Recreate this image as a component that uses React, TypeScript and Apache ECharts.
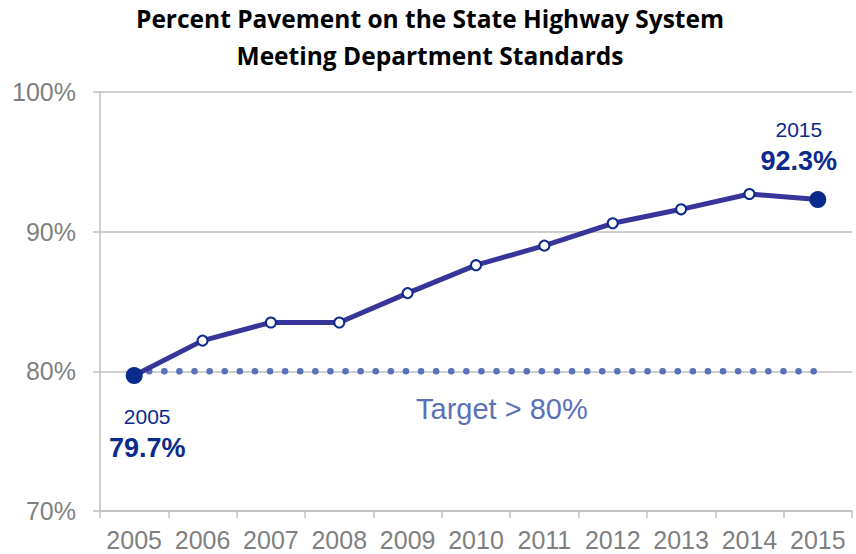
import React, { useEffect, useRef } from "react";
import * as echarts from "echarts";

const years = ["2005", "2006", "2007", "2008", "2009", "2010", "2011", "2012", "2013", "2014", "2015"];
const pavementPct = [79.7, 82.2, 83.5, 83.5, 85.6, 87.6, 89.0, 90.6, 91.6, 92.7, 92.3];
const targetPct = [80, 80, 80, 80, 80, 80, 80, 80, 80, 80, 80];
const yTicks = [70, 80, 90, 100];
const titleLines = ["Percent Pavement on the State Highway System", "Meeting Department Standards"];
const targetLabel = "Target > 80%";

const NAVY = "#0B2A8C";
const LINE = "#37359A";
const DOT = "#5A71B8";
const GRAY = "#7F7F7F";

export default function App() {
  const ref = useRef<HTMLDivElement>(null);
  useEffect(() => {
    if (!ref.current) return;
    const chart = echarts.init(ref.current, undefined, { renderer: "svg" });
    const last = pavementPct.length - 1;
    const lineData = pavementPct.map((v, i) => {
      if (i === 0 || i === last) {
        return {
          value: v,
          symbolSize: 17,
          itemStyle: { color: NAVY, borderColor: NAVY, borderWidth: 0 },
          label: {
            show: true,
            position: i === 0 ? "bottom" : "top",
            offset: i === 0 ? [13, 12] : [-19, -10],
            formatter: `{y|${years[i]}}\n{v|${v.toFixed(1)}%}`,
            rich: {
              y: { fontSize: 21, color: NAVY, fontFamily: "Liberation Sans", align: "center", lineHeight: 31 },
              v: { fontSize: 27, fontWeight: "bold", color: NAVY, fontFamily: "Liberation Sans", align: "center", lineHeight: 31 },
            },
          },
        };
      }
      return v;
    });
    chart.setOption({
      animation: false,
      title: {
        text: titleLines.join("\n"),
        left: 430,
        textAlign: "center",
        top: 0,
        padding: 0,
        textStyle: { fontSize: 24.5, fontWeight: "bold", color: "#000", fontFamily: "Open Sans", lineHeight: 37 },
      },
      grid: { left: 100, right: 4, top: 92, bottom: 43 },
      xAxis: {
        type: "category",
        data: years,
        boundaryGap: true,
        axisLine: { lineStyle: { color: "#BFBFBF", width: 1.5 } },
        axisTick: { show: true, interval: 0, length: 7, lineStyle: { color: "#BFBFBF", width: 1.5 } },
        axisLabel: { color: GRAY, fontSize: 25, fontFamily: "Liberation Sans", margin: 16, interval: 0, hideOverlap: false },
      },
      yAxis: {
        type: "value",
        min: yTicks[0],
        max: yTicks[yTicks.length - 1],
        interval: 10,
        axisLine: { show: true, lineStyle: { color: "#BFBFBF", width: 1.5 } },
        axisTick: { show: true, length: 7, lineStyle: { color: "#BFBFBF", width: 1.5 } },
        splitLine: { show: true, lineStyle: { color: "#BFBFBF", width: 1.5 } },
        axisLabel: { color: GRAY, fontSize: 25, fontFamily: "Liberation Sans", margin: 24, formatter: "{value}%" },
      },
      series: [
        {
          type: "line",
          data: targetPct,
          symbol: "none",
          lineStyle: { color: DOT, width: 6.5, type: [0.1, 15], cap: "round", dashOffset: -15 },
          z: 2,
        },
        {
          type: "line",
          data: lineData,
          symbol: "circle",
          symbolSize: 10,
          showAllSymbol: true,
          itemStyle: { color: "#fff", borderColor: NAVY, borderWidth: 2 },
          lineStyle: { color: LINE, width: 5 },
          z: 3,
        },
      ],
      graphic: [
        {
          type: "text",
          left: 416,
          top: 394,
          style: { text: targetLabel, fontSize: 29, fill: DOT, fontFamily: "Liberation Sans" },
        },
      ],
    });
    return () => chart.dispose();
  }, []);
  return <div ref={ref} style={{ width: 856, height: 554, position: "absolute", left: 0, top: 0 }} />;
}
